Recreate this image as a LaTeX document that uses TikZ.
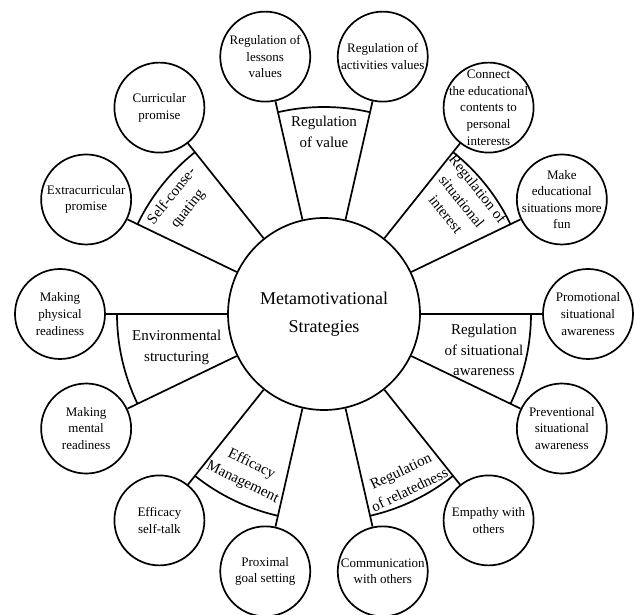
\documentclass[tikz,border=0pt]{standalone}
\usepackage{fontspec}
\setmainfont{Liberation Serif}
\usepackage{tikz}

\begin{document}
\begin{tikzpicture}[
    hub/.style={
        draw,
        circle,
        line width=1.7pt,
        minimum size=192pt,
        inner sep=0pt,
        align=center,
        font=\fontsize{18}{28}\selectfont
    },
    leaf/.style={
        draw,
        circle,
        line width=1.7pt,
        minimum size=90pt,
        inner sep=0pt,
        label={[leaftext]center:{#1}}
    },
    leaftext/.style={align=center, inner sep=0pt, font=\fontsize{13}{16.6}\selectfont},
    group/.style={align=center, inner sep=0pt, font=\fontsize{15}{20.5}\selectfont},
    link/.style={line width=1.7pt}
]
\useasboundingbox (-324pt,-301pt) rectangle (310pt,314pt);

% Central node
\node[hub] (core) at (0,0) {Metamotivational\\Strategies};

% Strategies (one every 360/14 degrees)
\node[leaf={Promotional\\situational\\awareness}] (promo) at (0:264pt) {};
\node[leaf={Make\\educational\\situations more\\fun}] (fun) at (25.71:264pt) {};
\node[leaf={Connect\\the educational\\contents to\\personal\\interests}] (connect) at (51.43:264pt) {};
\node[leaf={Regulation of\\activities values}] (activities) at (77.14:264pt) {};
\node[leaf={Regulation of\\lessons\\values}] (lessons) at (102.86:264pt) {};
\node[leaf={Curricular\\promise}] (curricular) at (128.57:264pt) {};
\node[leaf={Extracurricular\\promise}] (extra) at (154.29:264pt) {};
\node[leaf={Making\\physical\\readiness}] (physical) at (180:264pt) {};
\node[leaf={Making\\mental\\readiness}] (mental) at (205.71:264pt) {};
\node[leaf={Efficacy\\self-talk}] (selftalk) at (231.43:264pt) {};
\node[leaf={Proximal\\goal setting}] (proximal) at (257.14:264pt) {};
\node[leaf={Communication\\with others}] (communication) at (282.86:264pt) {};
\node[leaf={Empathy with\\others}] (empathy) at (308.57:264pt) {};
\node[leaf={Preventional\\situational\\awareness}] (prevent) at (334.29:264pt) {};

% Spokes from the core to each strategy
\draw[link] (core) -- (promo);
\draw[link] (core) -- (fun);
\draw[link] (core) -- (connect);
\draw[link] (core) -- (activities);
\draw[link] (core) -- (lessons);
\draw[link] (core) -- (curricular);
\draw[link] (core) -- (extra);
\draw[link] (core) -- (physical);
\draw[link] (core) -- (mental);
\draw[link] (core) -- (selftalk);
\draw[link] (core) -- (proximal);
\draw[link] (core) -- (communication);
\draw[link] (core) -- (empathy);
\draw[link] (core) -- (prevent);

% Arcs closing each pair of spokes
\draw[link] (0:207pt) arc[start angle=0, end angle=-25.71, radius=207pt];
\draw[link] (25.71:207pt) arc[start angle=25.71, end angle=51.43, radius=207pt];
\draw[link] (77.14:207pt) arc[start angle=77.14, end angle=102.86, radius=207pt];
\draw[link] (128.57:207pt) arc[start angle=128.57, end angle=154.29, radius=207pt];
\draw[link] (180:207pt) arc[start angle=180, end angle=205.71, radius=207pt];
\draw[link] (231.43:207pt) arc[start angle=231.43, end angle=257.14, radius=207pt];
\draw[link] (282.86:207pt) arc[start angle=282.86, end angle=308.57, radius=207pt];

% Group names
\node[group] (value) at (90:182pt) {Regulation\\of value};
\node[group, rotate=-51.43] (interest) at (39.2:178pt) {Regulation of\\situational\\interest};
\node[group, rotate=51.43] (consequating) at (142.3:182pt) {Self-conse-\\quating};
\node[group] (structuring) at (192.7:151pt) {Environmental\\structuring};
\node[group, rotate=-25.71] (efficacy) at (244.2:177pt) {Efficacy\\Management};
\node[group, rotate=25.71] (relatedness) at (296:185pt) {Regulation\\of relatedness};
\node[group] (awareness) at (347.3:164pt) {Regulation\\of situational\\awareness};

\end{tikzpicture}
\end{document}
